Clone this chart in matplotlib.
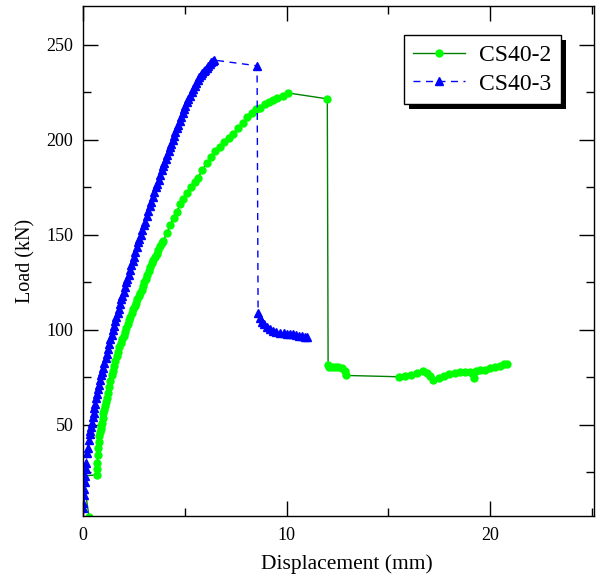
import matplotlib
matplotlib.use("Agg")
import matplotlib.pyplot as plt
from matplotlib.ticker import MultipleLocator
from matplotlib.patches import Rectangle

plt.rcParams['font.family'] = ['Liberation Serif', 'DejaVu Serif']

# CS40-2 (green, circles)
x2 = [0.3, 0.0, 0.67, 0.68, 0.7, 0.72, 0.74, 0.77, 0.8, 0.83, 0.87, 0.9,
      0.93, 0.97, 1.0, 1.04, 1.08, 1.13, 1.18, 1.24, 1.3, 1.35, 1.41, 1.47,
      1.53, 1.59, 1.65, 1.72, 1.78, 1.85, 1.92, 1.99, 2.06, 2.13, 2.2, 2.27,
      2.33, 2.4, 2.47, 2.54, 2.6, 2.67, 2.74, 2.81, 2.88, 2.95, 3.02, 3.09,
      3.16, 3.23, 3.29, 3.37, 3.45, 3.53, 3.62, 3.7, 3.78, 3.87, 3.95,
      4.12, 4.28, 4.45, 4.6, 4.77, 4.93, 5.1, 5.3, 5.5, 5.65, 5.85, 6.1, 6.3,
      6.5, 6.73, 6.95, 7.15, 7.37, 7.6, 7.85, 8.06, 8.3, 8.5, 8.7, 8.95, 9.15,
      9.34, 9.55, 9.8, 10.07,
      12.0, 12.04, 12.1, 12.25, 12.4, 12.55, 12.7, 12.85, 12.9,
      15.5, 15.8, 16.1, 16.4, 16.7, 16.9, 17.05, 17.2, 17.5, 17.75, 18.0, 18.25,
      18.5, 18.75, 19.0, 19.15, 19.2, 19.3, 19.5, 19.75, 20.0, 20.25, 20.5, 20.7, 20.85]
y2 = [1.5, 23, 23.7, 27, 30, 34, 38, 41, 44, 46, 48, 49.5,
      51, 53.5, 56, 58, 60, 62, 64, 67, 70, 73, 76, 78.5,
      81, 83.5, 86, 88.5, 91, 93, 95, 97, 99, 101, 103, 105,
      107, 109, 111, 112.5, 114, 116, 118, 119.5, 121, 123, 125, 127,
      129, 131, 133, 135, 137, 138.5, 140, 142, 144, 145.5, 147,
      151, 155, 159, 162, 166, 169, 172, 175, 178, 180, 184, 188, 191,
      194, 196, 199, 201, 203, 206, 209, 212, 214, 216, 217, 219, 220,
      221, 222, 223, 224.7,
      221.6, 81.6, 80.5, 80.5, 80.6, 80.4, 80, 78.5, 76,
      75.3, 75.8, 76.3, 77.4, 78.4, 77.4, 75.5, 73.7, 74.7, 75.8, 76.8, 77.4,
      77.9, 78.0, 77.9, 77.0, 74.7, 78.4, 78.8, 79, 80, 80.5, 81, 82, 82]

# CS40-3 (blue, triangles)
x3 = [0, 0.02, 0.04, 0.06, 0.08, 0.1,
      0.13, 0.16, 0.2, 0.24, 0.28, 0.32,
      0.36, 0.4, 0.44, 0.48, 0.52, 0.56,
      0.6, 0.65, 0.7, 0.75, 0.8, 0.85,
      0.9, 0.95, 1.0, 1.05, 1.11, 1.16,
      1.22, 1.28, 1.34, 1.4, 1.46, 1.52,
      1.58, 1.64, 1.7, 1.76, 1.82, 1.88,
      1.94, 2.0, 2.06, 2.12, 2.18, 2.24,
      2.31, 2.37, 2.44, 2.5, 2.57, 2.63,
      2.7, 2.77, 2.84, 2.91, 2.98, 3.05,
      3.13, 3.2, 3.28, 3.35, 3.43, 3.5,
      3.58, 3.65, 3.73, 3.8, 3.88, 3.94,
      4.0, 4.07, 4.13, 4.2, 4.26, 4.33,
      4.4, 4.47, 4.54, 4.61, 4.68, 4.75,
      4.82, 4.89, 4.96, 5.03, 5.1, 5.18,
      5.25, 5.33, 5.4, 5.48, 5.55, 5.63,
      5.7, 5.78, 5.85, 5.93, 6.0, 6.08,
      6.15, 6.23, 6.3, 6.37, 6.44, 8.55,
      8.6, 8.7, 8.8, 8.9, 9.04, 9.2, 9.35, 9.5, 9.68, 9.85, 10.0, 10.15, 10.3,
      10.45, 10.6, 10.75, 10.9, 11.0]
y3 = [6, 9, 13, 16, 20, 23,
      27, 30, 35, 38, 42, 45,
      47, 49, 51, 54, 56, 59,
      61, 64, 66, 69, 71, 73.5,
      76, 78, 80, 82.5, 85, 87.5,
      90, 92.5, 95, 97.5, 100, 102,
      104.5, 106.5, 109, 111, 113.5, 116,
      118, 120, 122.5, 125, 127, 129,
      131.5, 134, 136, 138.5, 141, 143.5,
      146, 148, 150, 152.5, 155, 157,
      160, 162.5, 165, 167.5, 170, 172.5,
      175, 177, 179, 181.5, 184, 186,
      188, 190, 192, 194, 196, 198,
      200, 202, 204, 206, 208, 210,
      212, 214, 216, 218, 220, 221.5,
      223, 225, 227, 228.5, 230, 231.5,
      233, 234, 235, 236, 237, 238,
      239, 240, 241, 241.5, 242, 239,
      109, 106, 104, 103, 101.6, 100.5, 99.6, 99, 98.4, 98.2, 98, 97.8, 97.9,
      97.5, 97, 96.6, 96.4, 96.3]

fig = plt.figure(figsize=(5.98, 5.77), dpi=100)
ax = fig.add_axes([0.1388, 0.1057, 0.8545, 0.884])

ax.plot(x2, y2, '-', color='#008000', lw=1, marker='o', ms=5,
        mfc='#00ff00', mec='#00ff00', label='CS40-2')
ax.plot(x3, y3, '--', color='#0000ff', lw=1, dashes=(5, 4), marker='^', ms=6,
        mfc='#0000ff', mec='#0000ff', label='CS40-3')

ax.set_xlim(0, 25.1)
ax.set_ylim(2, 270.5)
ax.xaxis.set_major_locator(MultipleLocator(10))
ax.xaxis.set_minor_locator(MultipleLocator(5))
ax.yaxis.set_major_locator(MultipleLocator(50))
ax.yaxis.set_minor_locator(MultipleLocator(25))
ax.set_yticks([50, 100, 150, 200, 250])
ax.tick_params(which='both', direction='in', top=True, right=True, labelsize=13, width=1)
ax.tick_params(which='major', length=11)
ax.tick_params(axis='x', pad=8)
ax.tick_params(axis='y', pad=7)
ax.tick_params(which='minor', length=6)
for s in ax.spines.values():
    s.set_linewidth(1)

ax.set_xlabel('Displacement (mm)', fontsize=15.5, labelpad=7)
ax.xaxis.label.set_x(0.517)
ax.set_ylabel('Load (kN)', fontsize=14.5, labelpad=8)

leg = ax.legend(loc='upper right', bbox_to_anchor=(0.935, 0.943), borderaxespad=0,
                fontsize=17, fancybox=False, framealpha=1, edgecolor='black',
                handlelength=2.2, handletextpad=0.6,
                borderpad=0.4, labelspacing=0.3)
leg.get_frame().set_linewidth(1)

# black offset shadow behind the legend box
fig.canvas.draw()
bb = leg.get_window_extent()
ax.add_patch(Rectangle((bb.x0 + 5, bb.y0 - 5), bb.width, bb.height,
                       transform=None, facecolor='black', edgecolor='none',
                       zorder=4.9, clip_on=False))

fig.savefig('out.png', dpi=100)
